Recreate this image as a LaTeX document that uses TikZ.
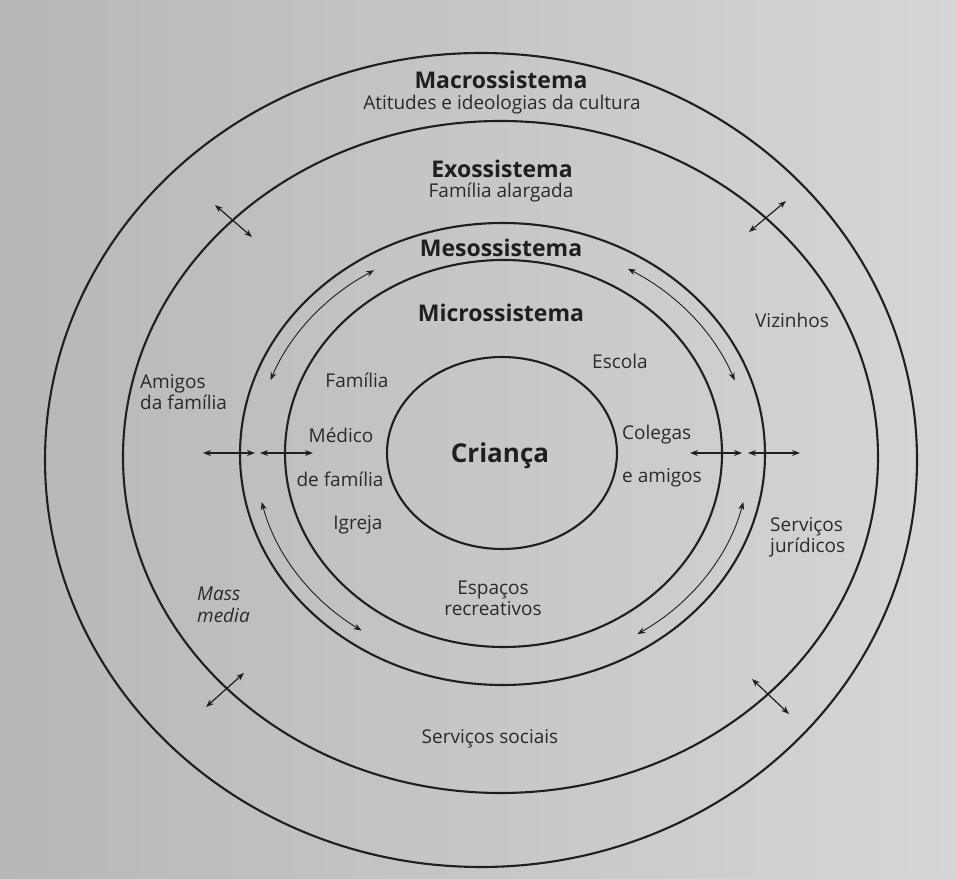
\documentclass[tikz,border=0pt]{standalone}
\usepackage{fontspec}
\setmainfont{Open Sans}
\usetikzlibrary{arrows.meta}
\definecolor{ink}{HTML}{1F1F1F}
\definecolor{txt}{HTML}{2A2A2A}
\definecolor{pageL}{HTML}{B7B7B9}
\definecolor{pageR}{HTML}{D6D6D8}
\begin{document}
\begin{tikzpicture}[x=1pt,y=1pt,
  ring/.style={draw=ink,line width=2.1pt},
  lbl/.style={text=txt,font=\fontsize{19}{21}\selectfont,inner sep=0pt},
  ttl/.style={text=ink,font=\fontsize{23}{25}\selectfont\bfseries,inner sep=0pt},
  tip/.tip={Stealth[length=8pt,width=6pt]},
  dbl/.style={draw=ink,line width=1.2pt,tip-tip},
  arcarrow/.style={draw=ink,line width=0.9pt,tip-tip}]
\useasboundingbox (0,0) rectangle (955,878);
\shade[left color=pageL,right color=pageR] (0,0) rectangle (955,878);
% centres
\coordinate (cMa) at (481,418);
\coordinate (cEx) at (500.5,421);
\coordinate (cMe) at (502.5,424);
\coordinate (cMi) at (503.5,424.5);
\coordinate (cIn) at (502,425);
% rings
\draw[ring] (cMa) ellipse [x radius=436, y radius=407];
\draw[ring] (cEx) ellipse [x radius=377.5, y radius=336];
\draw[ring] (cMe) ellipse [x radius=262.5, y radius=231];
\draw[ring] (cMi) ellipse [x radius=218.5, y radius=193.5];
\draw[ring] (cIn) ellipse [x radius=115, y radius=96];
% titles
\node[ttl] (macro) at (501,798) {Macrossistema};
\node[lbl] (atit) at (502,773) {Atitudes e ideologias da cultura};
\node[ttl] (exo) at (502,709) {Exossistema};
\node[lbl] (falarg) at (501,685) {Família alargada};
\node[ttl] (meso) at (501,630) {Mesossistema};
\node[ttl] (micro) at (501,565) {Microssistema};
\node[text=ink,font=\fontsize{26}{28}\selectfont\bfseries,inner sep=0pt] (crianca) at (500,422) {Criança};
% labels
\node[lbl] (viz) at (792,558) {Vizinhos};
\node[lbl] (escola) at (620,517) {Escola};
\node[lbl] (familia) at (357,498) {Família};
\node[lbl,align=left,anchor=west] (amigos) at (140,485.5) {Amigos\\da família};
\node[lbl] (medico) at (341,443) {Médico};
\node[lbl] (defam) at (340,399) {de família};
\node[lbl] (igreja) at (358,353) {Igreja};
\node[lbl,anchor=west] (colegas) at (622,443) {Colegas};
\node[lbl,anchor=west] (eamigos) at (622,400) {e amigos};
\node[lbl,align=left,anchor=west] (servjur) at (770,340.5) {Serviços\\jurídicos};
\node[lbl,align=left,anchor=west,font=\fontsize{19}{22}\selectfont\itshape] (mass) at (197,273.5) {Mass\\media};
\node[lbl,align=center] (espacos) at (493,280) {Espaços\\recreativos};
\node[lbl] (servsoc) at (490,139) {Serviços sociais};
% horizontal arrows
\coordinate (hl1) at (203,425); \coordinate (hl2) at (255,425);
\coordinate (hl3) at (260,425); \coordinate (hl4) at (313,425);
\coordinate (hr1) at (690,425); \coordinate (hr2) at (742,425);
\coordinate (hr3) at (748,425); \coordinate (hr4) at (800,425);
\draw[dbl] (hl1) -- (hl2);
\draw[dbl] (hl3) -- (hl4);
\draw[dbl] (hr1) -- (hr2);
\draw[dbl] (hr3) -- (hr4);
% diagonal arrows across the exosystem ring
\coordinate (ul1) at (215,673); \coordinate (ul2) at (252,641);
\coordinate (ur1) at (749,646); \coordinate (ur2) at (786,677);
\coordinate (ll1) at (206,171); \coordinate (ll2) at (244,205);
\coordinate (lr1) at (752,199); \coordinate (lr2) at (789,164);
\draw[dbl] (ul1) -- (ul2);
\draw[dbl] (ur1) -- (ur2);
\draw[dbl] (ll1) -- (ll2);
\draw[dbl] (lr1) -- (lr2);
% curved arrows in the mesosystem ring
\coordinate (aUL) at ([shift={(159.9:247 and 215)}]cMe);
\coordinate (aUR) at ([shift={(20:247 and 215)}]cMe);
\coordinate (aLL) at ([shift={(192.9:247 and 215)}]cMe);
\coordinate (aLR) at ([shift={(-12.9:247 and 215)}]cMe);
\draw[arcarrow] (aUL) arc[start angle=159.9, end angle=121.3, x radius=247, y radius=215];
\draw[arcarrow] (aUR) arc[start angle=20, end angle=59.5, x radius=247, y radius=215];
\draw[arcarrow] (aLL) arc[start angle=192.9, end angle=235.2, x radius=247, y radius=215];
\draw[arcarrow] (aLR) arc[start angle=-12.9, end angle=-56.9, x radius=247, y radius=215];
\end{tikzpicture}
\end{document}
